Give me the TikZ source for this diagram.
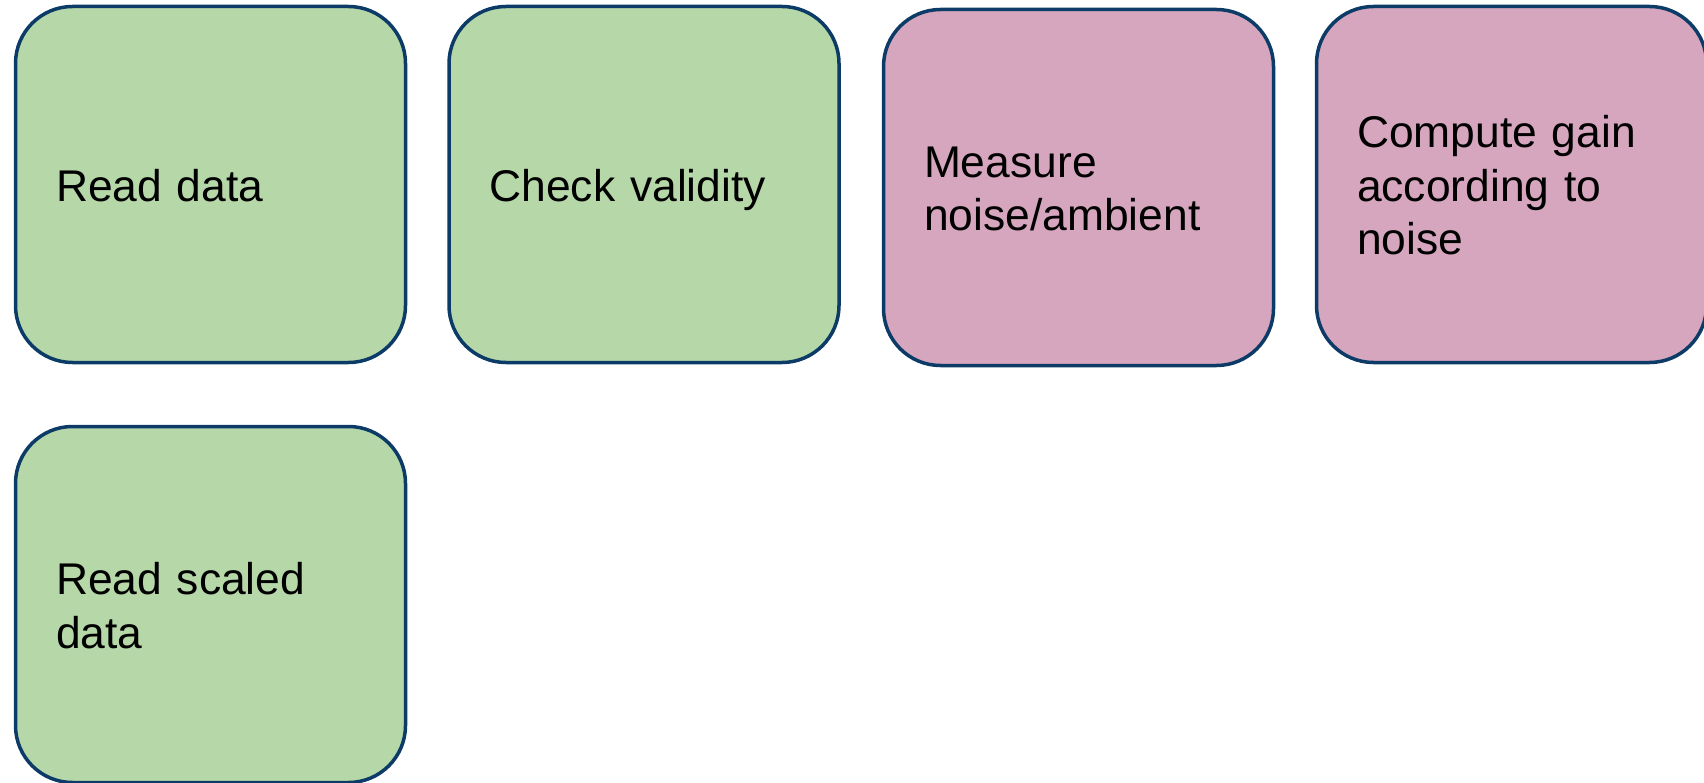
\documentclass[tikz,border=0pt]{standalone}
\usepackage{fontspec}
\setmainfont{Liberation Sans}
\definecolor{boxgreen}{HTML}{B6D7A8}
\definecolor{boxpink}{HTML}{D5A6BD}
\definecolor{boxline}{HTML}{0B3B66}
\newcommand\tstrut{\rule[-10pt]{0pt}{53.5pt}}
\tikzset{
  stepbox/.style={draw=boxline, line width=3.5pt, rounded corners=57pt,
    minimum width=390pt, minimum height=356pt, text width=309pt,
    align=left, inner sep=0pt,
    font=\fontsize{44.4pt}{53.5pt}\selectfont},
  greenbox/.style={stepbox, fill=boxgreen},
  pinkbox/.style={stepbox, fill=boxpink}
}
\begin{document}
\begin{tikzpicture}[x=1pt,y=-1pt]
\useasboundingbox (0,0) rectangle (1704,783);
\clip (0,0) rectangle (1704,783);
\node[greenbox] (read) at (210.5,184.5) {\tstrut Read data};
\node[greenbox] (check) at (644,184.5) {\tstrut Check validity};
\node[pinkbox] (measure) at (1078.5,187.5) {\tstrut Measure\\\tstrut noise/ambient};
\node[pinkbox] (gain) at (1511.5,184.5) {\tstrut Compute gain\\\tstrut according to\\\tstrut noise};
\node[greenbox] (scaled) at (210.5,604.5) {\tstrut Read scaled\\\tstrut data};
\end{tikzpicture}
\end{document}
